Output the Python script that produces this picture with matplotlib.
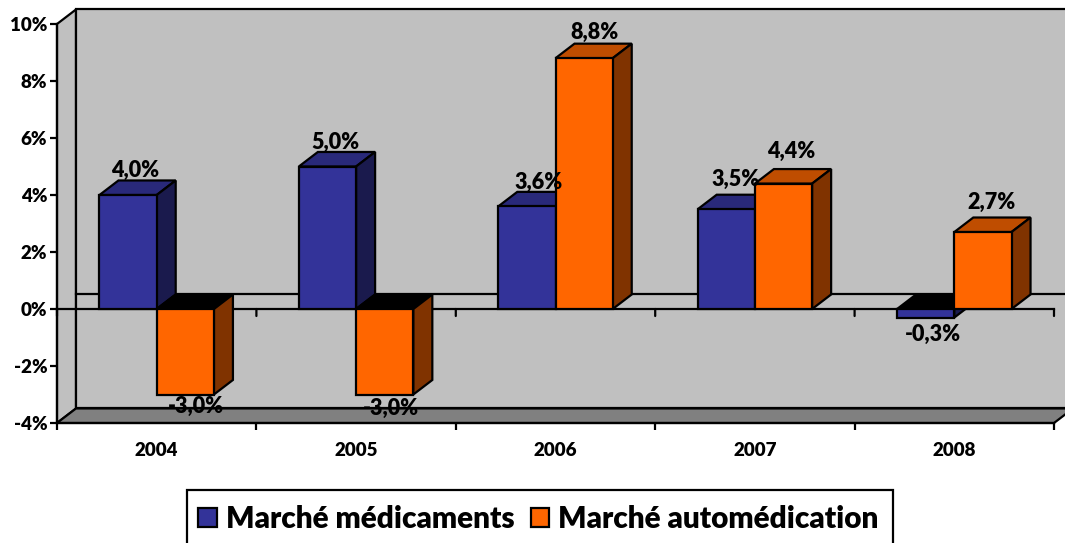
import matplotlib
matplotlib.use('Agg')
import matplotlib.pyplot as plt
from matplotlib.patches import Patch, Polygon, Rectangle

years = ['2004', '2005', '2006', '2007', '2008']
medicaments = [4.0, 5.0, 3.6, 3.5, -0.3]
automedication = [-3.0, -3.0, 8.8, 4.4, 2.7]
y_ticks = [-4, -2, 0, 2, 4, 6, 8, 10]

# label nudges in pixels from the bar end
med_offsets = [(7, 25), (8, 24), (12, 24), (9, 30), (7, -17)]
auto_offsets = [(11, -12), (6, -14), (10, 26), (8, 32), (9, 30)]

BLUE = ('#333399', '#29297A', '#1A1A4D')
ORANGE = ('#FF6600', '#BF4D00', '#803300')
BAR_W = 0.287
DEPTH_X = 0.0953
DEPTH_Y = 0.51
LW = 1.6
WEIGHT = 'heavy'

plt.rcParams['font.family'] = ['Lato', 'DejaVu Sans']
plt.rcParams['font.weight'] = WEIGHT

fig = plt.figure(figsize=(10.65, 5.43), dpi=100)
ax = fig.add_axes([57 / 1065, 1 - 423 / 543, (1054 - 57) / 1065, (423 - 24) / 543])
ax.set_xlim(-0.5, 4.5)
ax.set_ylim(-4, 10)
ax.patch.set_visible(False)
for s in ['top', 'right']:
    ax.spines[s].set_visible(False)
for s in ['left', 'bottom']:
    ax.spines[s].set_linewidth(LW)
    ax.spines[s].set_zorder(3)


def face(points, color, z):
    ax.add_patch(Polygon(points, closed=True, facecolor=color, edgecolor='black',
                         linewidth=LW, joinstyle='miter', clip_on=False, zorder=z))


# walls and floor
x0, x1 = -0.5, 4.5
far = x1 + DEPTH_X
face([(x0, 10), (x0 + DEPTH_X, 10 + DEPTH_Y), (x0 + DEPTH_X, -4 + DEPTH_Y), (x0, -4)], '#C0C0C0', 1)
face([(x0 + DEPTH_X, 10 + DEPTH_Y), (far, 10 + DEPTH_Y), (far, -4 + DEPTH_Y), (x0 + DEPTH_X, -4 + DEPTH_Y)], '#C0C0C0', 1)
face([(x0, -4), (x0 + DEPTH_X, -4 + DEPTH_Y), (far, -4 + DEPTH_Y), (x1, -4)], '#808080', 1)

# zero lines, back wall and front
ax.plot([x0 + DEPTH_X, far], [DEPTH_Y, DEPTH_Y], color='black', lw=LW, clip_on=False, zorder=2)
ax.plot([x0, x1], [0, 0], color='black', lw=LW, clip_on=False, zorder=2)
for i in range(6):
    ax.annotate('', xy=(i - 0.5, 0), xytext=(0, -7), textcoords='offset pixels',
                arrowprops=dict(arrowstyle='-', color='black', lw=LW, shrinkA=0, shrinkB=0), zorder=2)


def bar3d(left, value, colors, z):
    right = left + BAR_W
    top = max(value, 0)
    top_color = colors[1] if value > 0 else 'black'
    face([(left, top), (left + DEPTH_X, top + DEPTH_Y), (right + DEPTH_X, top + DEPTH_Y), (right, top)], top_color, z)
    face([(right, top), (right + DEPTH_X, top + DEPTH_Y), (right + DEPTH_X, min(value, 0) + DEPTH_Y), (right, min(value, 0))], colors[2], z)
    ax.bar(left, value, width=BAR_W, align='edge', color=colors[0], edgecolor='black',
           linewidth=LW, zorder=z + 0.1, clip_on=False)


for i in range(len(years)):
    bar3d(i - BAR_W, medicaments[i], BLUE, 4 + i * 2)
    bar3d(i, automedication[i], ORANGE, 5 + i * 2)


def label(x, value, offset):
    txt = f'{value:.1f}%'.replace('.', ',')
    ax.annotate(txt, xy=(x, value), xytext=offset, textcoords='offset pixels',
                ha='center', va='center', fontsize=15.5, fontweight=WEIGHT, zorder=30)


for i in range(len(years)):
    label(i - BAR_W / 2, medicaments[i], med_offsets[i])
    label(i + BAR_W / 2, automedication[i], auto_offsets[i])

ax.set_yticks(y_ticks)
ax.set_yticklabels([f'{t}%' for t in y_ticks], fontsize=13.5, fontweight=WEIGHT)
ax.tick_params(axis='y', length=5, width=LW, pad=2)
ax.set_xticks(range(5))
ax.set_xticklabels(years, fontsize=13.5, fontweight=WEIGHT)
ax.tick_params(axis='x', which='major', length=0, pad=14)
ax.set_xticks([i - 0.5 for i in range(6)], minor=True)
ax.tick_params(axis='x', which='minor', length=5, width=LW)

# legend box runs off the bottom of the picture
fig.add_artist(Rectangle((187 / 1065, -0.02), (893 - 187) / 1065, 1 - 490 / 543 + 0.02,
                         transform=fig.transFigure, facecolor='white', edgecolor='black', linewidth=LW))
handles = [Patch(facecolor=BLUE[0], edgecolor='black', linewidth=LW),
           Patch(facecolor=ORANGE[0], edgecolor='black', linewidth=LW)]
leg = fig.legend(handles, ['Marché médicaments', 'Marché automédication'], ncol=2,
                 loc='upper left', bbox_to_anchor=(187 / 1065, 1 - 494 / 543),
                 frameon=False, prop={'size': 21.4, 'weight': WEIGHT},
                 handlelength=0.63, handleheight=0.63, handletextpad=0.3, columnspacing=0.55,
                 borderpad=0.37, borderaxespad=0)
leg.set_zorder(5)

fig.savefig('out.png', dpi=100)
